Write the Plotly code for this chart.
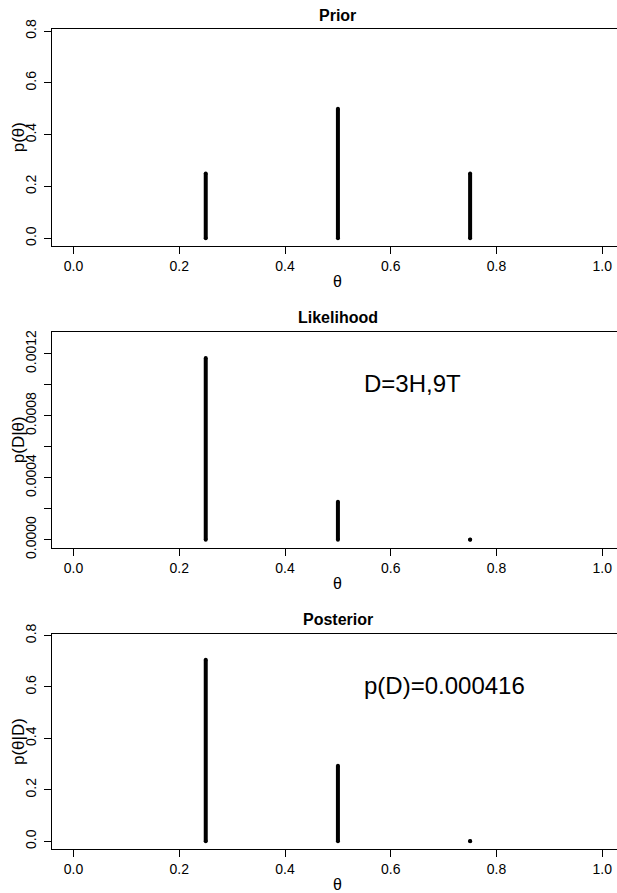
import plotly.graph_objects as go

theta = [0.25, 0.50, 0.75]
prior = [0.25, 0.50, 0.25]
likelihood = [0.0011732, 0.00024414, 0.0000016]
posterior = [0.7054, 0.2936, 0.00097]

panel_titles = ["Prior", "Likelihood", "Posterior"]
y_titles = ["p(θ)", "p(D|θ)", "p(θ|D)"]
x_ticks = [0.0, 0.2, 0.4, 0.6, 0.8, 1.0]
x_ticklabels = ["0.0", "0.2", "0.4", "0.6", "0.8", "1.0"]
p_ticks = [0.0, 0.2, 0.4, 0.6, 0.8]
p_ticklabels = ["0.0", "0.2", "0.4", "0.6", "0.8"]
l_ticks = [0.0, 0.0002, 0.0004, 0.0006, 0.0008, 0.0010, 0.0012]
l_ticklabels = ["0.0000", "", "0.0004", "", "0.0008", "", "0.0012"]
annot_texts = ["D=3H,9T", "p(D)=0.000416"]

W, H = 617, 893
FONT = "Liberation Sans, Arial, Helvetica, sans-serif"

# panel pixel geometry (top, bottom)
panels_px = [(29.3, 246.3), (331.7, 547.7), (633.7, 849.3)]
left_px = 52.4

ylim_pp = max(max(prior), max(posterior)) * 1.1
ylim_l = max(likelihood) * 1.1
yranges = [
    [-0.04 * ylim_pp, ylim_pp * 1.04],
    [-0.04 * ylim_l, ylim_l * 1.04],
    [-0.04 * ylim_pp, ylim_pp * 1.04],
]
series = [prior, likelihood, posterior]
yticks = [(p_ticks, p_ticklabels), (l_ticks, l_ticklabels), (p_ticks, p_ticklabels)]

x_left_val = -0.04
x_scale = 528.75  # px per unit
x_right_val = x_left_val + (W - left_px) / x_scale

fig = go.Figure()
annotations = []

for i in range(3):
    top, bot = panels_px[i]
    xa = "x" if i == 0 else f"x{i+1}"
    ya = "y" if i == 0 else f"y{i+1}"
    xs, ys = [], []
    for t, v in zip(theta, series[i]):
        xs += [t, t, None]
        ys += [0, v, None]
    fig.add_trace(go.Scatter(
        x=xs, y=ys, mode="lines", line=dict(color="black", width=4),
        xaxis=xa, yaxis=ya, showlegend=False, hoverinfo="skip"))
    fig.add_trace(go.Scatter(
        x=theta + theta, y=[0] * 3 + series[i], mode="markers",
        marker=dict(color="black", size=4, line=dict(width=0)),
        xaxis=xa, yaxis=ya, showlegend=False, hoverinfo="skip"))

    dom = [1 - bot / H, 1 - top / H]
    xkey = "xaxis" if i == 0 else f"xaxis{i+1}"
    ykey = "yaxis" if i == 0 else f"yaxis{i+1}"
    fig.layout[xkey] = dict(
        domain=[left_px / W, 1.0], range=[x_left_val, x_right_val],
        anchor=ya, showgrid=False, zeroline=False,
        showline=True, linecolor="black", linewidth=1.3, mirror=True,
        ticks="outside", ticklen=7, tickwidth=1, tickcolor="black",
        tickvals=x_ticks, ticktext=x_ticklabels,
        tickfont=dict(family=FONT, size=14, color="black"), automargin=False)
    tv, tt = yticks[i]
    fig.layout[ykey] = dict(
        domain=dom, range=yranges[i], anchor=xa, showgrid=False, zeroline=False,
        showline=True, linecolor="black", linewidth=1.3, mirror=False,
        ticks="outside", ticklen=7, tickwidth=1, tickcolor="black",
        tickvals=tv, ticktext=tt, tickangle=-90, ticklabelstandoff=3,
        tickfont=dict(family=FONT, size=14, color="black"), automargin=False)

    cx = (left_px + left_px + 1.08 * x_scale) / 2 / W
    annotations.append(dict(
        text=f"<b>{panel_titles[i]}</b>", x=cx, y=1 - (top - 14) / H,
        xref="paper", yref="paper", xanchor="center", yanchor="middle",
        showarrow=False, font=dict(family=FONT, size=16, color="black")))
    annotations.append(dict(
        text="θ", x=cx, y=1 - (bot + 35.5) / H,
        xref="paper", yref="paper", xanchor="center", yanchor="middle",
        showarrow=False, font=dict(family=FONT, size=16, color="black")))
    annotations.append(dict(
        text=y_titles[i], x=18.5 / W, y=1 - (top + bot) / 2 / H,
        xref="paper", yref="paper", xanchor="center", yanchor="middle",
        textangle=-90, showarrow=False,
        font=dict(family=FONT, size=17, color="black")))

annotations.append(dict(
    text=annot_texts[0], x=0.545, y=0.00101, xref="x2", yref="y2",
    xanchor="left", yanchor="middle", showarrow=False,
    font=dict(family=FONT, size=24, color="black")))
annotations.append(dict(
    text=annot_texts[1], x=0.545, y=0.605, xref="x3", yref="y3",
    xanchor="left", yanchor="middle", showarrow=False,
    font=dict(family=FONT, size=24, color="black")))

fig.update_layout(
    width=W, height=H, margin=dict(l=0, r=0, t=0, b=0),
    paper_bgcolor="white", plot_bgcolor="white",
    annotations=annotations)

fig.write_html("out.html")
